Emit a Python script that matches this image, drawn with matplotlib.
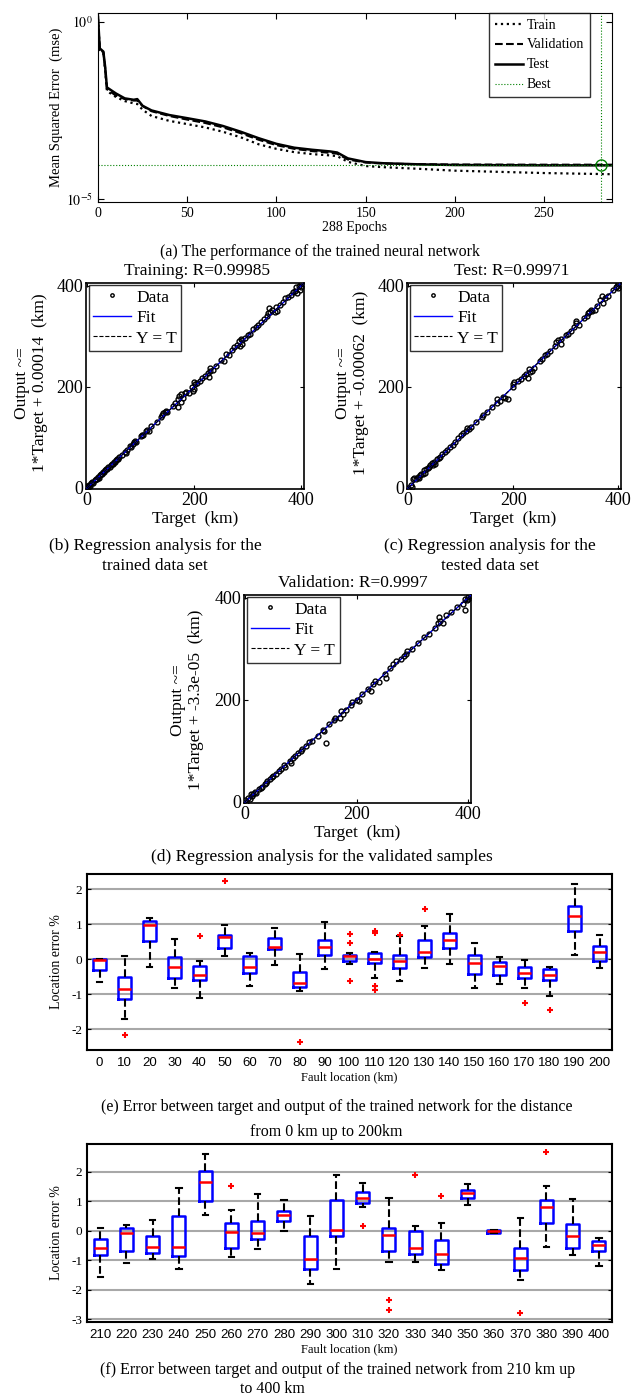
import matplotlib
matplotlib.use("Agg")
import matplotlib.pyplot as plt

W, H = 643, 1398
plt.rcParams['font.family'] = ['Liberation Serif', 'DejaVu Serif']
plt.rcParams['mathtext.fontset'] = 'stix'
plt.rcParams['axes.unicode_minus'] = False

# ---------------- (a) performance ----------------
perf_epochs = [0, 1, 3, 4, 5, 10, 15, 20, 22, 25, 30, 40, 50, 60, 70, 80, 90, 100,
               110, 120, 130, 134, 140, 150, 160, 180, 200, 250, 288]
mse_train = [1.2, 0.16, 0.13, 0.045, 0.0112, 0.0076, 0.0058, 0.005, 0.0048, 0.0033,
             0.0022, 0.0016, 0.0013, 0.00105, 7.9e-4, 5.5e-4, 3.5e-4, 2.6e-4, 2.1e-4,
             1.85e-4, 1.7e-4, 1.62e-4, 1.12e-4, 8.5e-5, 7.9e-5, 7.1e-5, 6.3e-5, 5.4e-5, 5.0e-5]
mse_val = [1.2, 0.16, 0.14, 0.05, 0.0126, 0.0083, 0.0066, 0.006, 0.006, 0.0042,
           0.003, 0.0022, 0.00174, 0.0014, 0.00105, 7.2e-4, 4.7e-4, 3.3e-4, 2.6e-4,
           2.25e-4, 2.0e-4, 1.9e-4, 1.3e-4, 1.07e-4, 1.0e-4, 9.6e-5, 9.4e-5, 9.3e-5, 9.3e-5]
mse_test = [1.38, 0.178, 0.145, 0.0537, 0.0141, 0.00955, 0.00692, 0.00631, 0.0066, 0.00427,
            0.00316, 0.00234, 0.00191, 0.00155, 0.00115, 7.9e-4, 5.2e-4, 3.6e-4, 2.8e-4,
            2.45e-4, 2.2e-4, 2.05e-4, 1.4e-4, 1.1e-4, 1.02e-4, 9.5e-5, 9.1e-5, 8.9e-5, 8.9e-5]
best_epoch = 282
best_mse = 9.2e-5

# ---------------- (b)-(d) regression ----------------
train_t = [0, 0, 2, 4, 6, 8, 10, 12, 14, 16, 18, 20, 22, 24, 26, 28, 30, 32, 34, 36, 38, 40,
           42, 44, 46, 48, 50, 52, 54, 56, 58, 60, 65, 70, 72, 75, 80, 82, 85, 88, 90, 92,
           100, 102, 105, 110, 112, 115, 120, 130, 138, 140, 142, 145, 148, 150, 160, 165,
           170, 170, 172, 175, 175, 180, 182, 185, 190, 195, 198, 200, 200, 202, 205, 210,
           215, 220, 225, 228, 230, 230, 235, 240, 250, 255, 260, 265, 270, 275, 280, 283,
           285, 287, 290, 290, 295, 300, 305, 310, 315, 320, 325, 330, 335, 338, 340, 342,
           345, 350, 352, 355, 360, 365, 370, 375, 380, 385, 388, 390, 392, 395, 398, 400, 400]
train_y = [0, 3, 2, 5, 4, 9, 12, 10, 15, 18, 17, 22, 20, 25, 27, 27, 32, 31, 35, 38, 37, 42,
           41, 45, 47, 48, 52, 51, 56, 58, 57, 62, 65, 72, 70, 76, 82, 80, 86, 90, 92, 90,
           102, 105, 104, 112, 115, 113, 122, 130, 140, 145, 148, 150, 152, 150, 162, 168,
           160, 175, 182, 170, 185, 178, 188, 190, 188, 200, 192, 210, 195, 205, 208, 212,
           218, 222, 228, 220, 238, 232, 233, 242, 252, 250, 265, 262, 272, 278, 282, 290,
           280, 295, 292, 285, 297, 302, 305, 315, 318, 322, 328, 333, 340, 345, 355, 348,
           352, 348, 358, 350, 362, 368, 375, 378, 382, 388, 390, 398, 385, 400, 392, 405, 398]
test_t = [0, 0, 5, 8, 10, 12, 15, 18, 20, 22, 25, 28, 30, 32, 35, 38, 40, 42, 45, 48, 50, 52,
          55, 58, 60, 65, 70, 75, 80, 85, 90, 95, 100, 105, 110, 112, 115, 120, 130, 140, 142,
          150, 160, 170, 170, 175, 180, 185, 190, 200, 200, 202, 210, 215, 220, 225, 228, 230,
          232, 235, 240, 250, 255, 260, 265, 270, 280, 282, 285, 290, 290, 300, 305, 310, 315,
          320, 320, 325, 335, 340, 342, 345, 348, 350, 355, 360, 365, 368, 370, 375, 380, 390,
          395, 398, 400, 400]
test_y = [0, -3, 5, 2, 18, 20, 17, 22, 20, 25, 28, 28, 35, 30, 38, 40, 42, 45, 50, 45, 52, 48,
          58, 60, 62, 67, 72, 76, 80, 85, 90, 98, 105, 108, 112, 118, 116, 120, 130, 140, 145,
          150, 160, 168, 175, 172, 180, 178, 175, 200, 205, 210, 212, 215, 222, 225, 218, 235,
          230, 232, 238, 250, 255, 262, 265, 270, 280, 288, 292, 285, 295, 302, 305, 310, 318,
          325, 330, 322, 335, 340, 345, 348, 352, 350, 352, 360, 372, 380, 365, 375, 380, 392,
          398, 400, 405, 395]
val_t = [0, 2, 5, 8, 10, 12, 15, 18, 20, 25, 28, 30, 35, 38, 40, 45, 48, 50, 55, 60, 65, 70,
         72, 80, 82, 85, 90, 95, 100, 102, 110, 115, 120, 130, 140, 142, 145, 150, 160, 162,
         170, 172, 175, 180, 190, 192, 200, 205, 210, 220, 225, 230, 232, 240, 250, 252, 260,
         265, 270, 280, 285, 288, 290, 300, 310, 320, 330, 340, 345, 348, 350, 355, 360, 370,
         380, 390, 395, 395, 398, 400, 400]
val_y = [3, 0, 8, 5, 15, 12, 15, 20, 18, 25, 27, 30, 35, 38, 42, 45, 48, 50, 55, 60, 65, 72,
         68, 80, 76, 87, 90, 95, 100, 104, 110, 117, 120, 130, 140, 138, 115, 152, 160, 165,
         165, 178, 172, 180, 190, 195, 200, 198, 212, 222, 218, 230, 236, 235, 250, 242, 262,
         270, 275, 280, 285, 290, 295, 300, 312, 322, 328, 340, 350, 362, 355, 350, 365, 372,
         382, 388, 398, 375, 395, 402, 397]

# ---------------- (e) boxplot 0-200 km ----------------
e_labels = [str(v) for v in range(0, 201, 10)]
e_q1 = [-0.3, -1.15, 0.52, -0.53, -0.61, 0.31, -0.39, 0.28, -0.8, 0.12, -0.07,
        -0.12, -0.27, 0.06, 0.31, -0.43, -0.45, -0.54, -0.61, 0.81, -0.06]
e_med = [-0.03, -0.85, 0.98, -0.22, -0.45, 0.62, -0.22, 0.35, -0.68, 0.35, 0.09,
         0.0, -0.07, 0.19, 0.54, -0.12, -0.2, -0.39, -0.45, 1.23, 0.21]
e_q3 = [0.0, -0.5, 1.1, 0.07, -0.2, 0.68, 0.1, 0.6, -0.38, 0.53, 0.11,
        0.16, 0.12, 0.55, 0.73, 0.12, -0.08, -0.24, -0.28, 1.52, 0.37]
e_lo = [-0.65, -1.72, -0.24, -0.82, -1.1, 0.1, -0.77, -0.18, -0.9, -0.28, -0.15,
        -0.53, -0.62, -0.25, -0.14, -0.82, -0.72, -0.84, -1.06, 0.11, -0.25]
e_hi = [0.0, 0.08, 1.17, 0.57, -0.06, 0.96, 0.16, 0.88, 0.13, 1.06, 0.17,
        0.2, 0.66, 0.93, 1.29, 0.45, 0.05, -0.03, -0.23, 2.13, 0.69]
e_fliers = [[], [-2.18], [], [], [0.67], [2.22], [], [], [-2.37], [], [0.72, 0.47, -0.62],
            [0.8, 0.74, -0.77, -0.89], [0.68], [1.44], [], [], [], [-1.27], [-1.46], [], []]

# ---------------- (f) boxplot 210-400 km ----------------
f_labels = [str(v) for v in range(210, 401, 10)]
f_q1 = [-0.82, -0.67, -0.75, -0.84, 1.0, -0.6, -0.28, 0.32, -1.31, -0.17,
        0.93, -0.69, -0.78, -1.14, 1.13, -0.06, -1.34, 0.27, -0.6, -0.69]
f_med = [-0.6, -0.09, -0.55, -0.56, 1.65, -0.05, -0.08, 0.53, -0.95, 0.03,
         1.12, -0.15, -0.58, -0.8, 1.3, -0.01, -0.94, 0.82, -0.17, -0.47]
f_q3 = [-0.28, 0.08, -0.17, 0.49, 2.02, 0.25, 0.33, 0.67, -0.17, 1.06,
        1.32, 0.11, -0.02, -0.3, 1.38, 0.02, -0.58, 1.06, 0.23, -0.33]
f_lo = [-1.56, -1.08, -0.97, -1.31, 0.55, -0.89, -0.63, 0.0, -1.81, -1.3,
        0.82, -1.05, -1.05, -1.32, 0.88, -0.07, -1.67, -0.54, -0.81, -1.19]
f_hi = [0.11, 0.19, 0.36, 1.46, 2.62, 0.69, 1.24, 1.03, 0.51, 1.89,
        1.63, 1.11, 0.17, 0.25, 1.58, 0.02, 0.42, 1.51, 1.07, -0.25]
f_fliers = [[], [], [], [], [], [1.51], [], [], [], [], [0.16], [-2.34, -2.69], [1.9],
            [1.17], [], [], [-2.8], [2.68], [], []]


def rect(l, t, r, b):
    return [l / W, 1 - b / H, (r - l) / W, (b - t) / H]


def ftext(x, y, s, **kw):
    kw.setdefault('ha', 'center')
    kw.setdefault('va', 'center')
    fig.text(x / W, 1 - y / H, s, **kw)


fig = plt.figure(figsize=(W / 100, H / 100), dpi=100)

# ---- (a)
ax = fig.add_axes(rect(98, 13, 612, 202))
ax.plot(perf_epochs, mse_train, 'k:', lw=1.6, label='Train')
ax.plot(perf_epochs, mse_val, 'k--', lw=1.5, label='Validation')
ax.plot(perf_epochs, mse_test, 'k-', lw=1.8, label='Test')
ax.axhline(best_mse, color='green', ls=':', lw=0.8, label='Best')
ax.axvline(best_epoch, color='green', ls=':', lw=0.8)
ax.plot([best_epoch], [best_mse], 'o', mfc='none', mec='green', ms=8, mew=1)
ax.set_yscale('log')
ax.set_xlim(0, 288)
ax.set_ylim(10 ** -5.085, 10 ** 0.25)
ax.set_yticks([1e-5, 1e0])
ax.set_yticklabels([r'$10^{-5}$', r'$10^{0}$'])
ax.minorticks_off()
ax.set_xticks([0, 50, 100, 150, 200, 250])
ax.tick_params(direction='in', labelsize=10, top=True, right=True, length=4)
ax.set_xlabel('288 Epochs', fontsize=10, labelpad=1)
ax.set_ylabel('Mean Squared Error  (mse)', fontsize=10.5, labelpad=2)
leg = ax.legend(loc='upper right', bbox_to_anchor=(0.957, 1.0), borderaxespad=0,
                fontsize=10, fancybox=False, edgecolor='black', handlelength=2.0,
                labelspacing=0.5, handletextpad=0.3, borderpad=0.4)
leg.get_frame().set_linewidth(1.0)
ftext(320, 252, '(a) The performance of the trained neural network', fontsize=11.5)

# ---- regression panels
def regress(box, t, y, title, title_xy, ylab, ylab_xy, xlab_xy):
    a = fig.add_axes(rect(*box))
    a.plot(t, y, 'o', mfc='none', mec='black', ms=3.5, mew=1.0, label='Data', zorder=2)
    a.plot([0, 405], [0, 405], '-', color='blue', lw=1.0, label='Fit', zorder=3)
    a.plot([0, 405], [0, 405], 'k--', lw=0.8, label='Y = T', zorder=4)
    a.set_xlim(-2, 405)
    a.set_ylim(-2, 405)
    a.set_xticks([0, 200, 400])
    a.set_yticks([0, 200, 400])
    a.tick_params(direction='in', labelsize=13, top=True, right=True, length=3, pad=2)
    for s in a.spines.values():
        s.set_linewidth(1.2)
    lg = a.legend(loc='upper left', bbox_to_anchor=(0.012, 0.99), borderaxespad=0,
                  fontsize=12.5, fancybox=False, edgecolor='black', handlelength=2.2,
                  labelspacing=0.25, handletextpad=0.3, borderpad=0.25, markerscale=0.7)
    lg.get_frame().set_linewidth(1.0)
    ftext(*title_xy, title, fontsize=12.5)
    ftext(*ylab_xy, ylab, fontsize=12.5, rotation=90, linespacing=1.1)
    ftext(*xlab_xy, 'Target  (km)', fontsize=12.5)
    return a

regress((86, 283, 304, 489), train_t, train_y, 'Training: R=0.99985', (197, 271),
        'Output ~=\n1*Target + 0.00014  (km)', (31, 383), (195, 519))
ftext(155, 556, '(b) Regression analysis for the\ntrained data set', fontsize=12.5,
      linespacing=1.25)

regress((407, 283, 621, 489), test_t, test_y, 'Test: R=0.99971', (512, 271),
        'Output ~=\n1*Target + -0.00062  (km)', (352, 383), (513, 519))
ftext(490, 556, '(c) Regression analysis for the\ntested data set', fontsize=12.5,
      linespacing=1.25)

regress((244, 595, 471, 803), val_t, val_y, 'Validation: R=0.9997', (353, 583),
        'Output ~=\n1*Target + -3.3e-05  (km)', (187, 700), (357, 833))
ftext(322, 857, '(d) Regression analysis for the validated samples', fontsize=12.5)

# ---- box plots
def boxes(box, labels, q1, med, q3, lo, hi, fl, ylim, yticks):
    a = fig.add_axes(rect(*box))
    stats = []
    for i in range(len(labels)):
        stats.append(dict(q1=q1[i], med=med[i], q3=q3[i], whislo=lo[i], whishi=hi[i],
                          fliers=fl[i], label=labels[i]))
    a.bxp(stats, widths=0.5, capwidths=0.2,
          boxprops=dict(color='blue', lw=1.8),
          medianprops=dict(color='red', lw=1.8),
          whiskerprops=dict(color='black', lw=1.5, ls='--'),
          capprops=dict(color='black', lw=1.5),
          flierprops=dict(marker='+', markeredgecolor='red', markersize=4, mew=1.5))
    a.set_xlim(0.5, len(labels) + 0.5)
    a.set_ylim(*ylim)
    a.set_yticks(yticks)
    a.yaxis.grid(True, color='#a8a8a8', lw=1.5)
    a.set_axisbelow(True)
    a.tick_params(axis='y', direction='in', labelsize=9.5, length=3, right=True)
    a.tick_params(axis='x', length=0, pad=5)
    for lab in a.get_xticklabels():
        lab.set_family('Liberation Sans')
        lab.set_fontsize(9.5)
    for s in a.spines.values():
        s.set_linewidth(1.5)
    a.set_ylabel('Location error %', fontsize=10, labelpad=6)
    a.set_xlabel('Fault location (km)', fontsize=9, labelpad=2)
    return a

boxes((87, 874, 612, 1050), e_labels, e_q1, e_med, e_q3, e_lo, e_hi, e_fliers,
      (-2.6, 2.43), [-2, -1, 0, 1, 2])
ftext(337, 1107, '(e) Error between target and output of the trained network for the distance',
      fontsize=11.5)
ftext(326, 1132, 'from 0 km up to 200km', fontsize=11.5)

boxes((87, 1144, 612, 1322), f_labels, f_q1, f_med, f_q3, f_lo, f_hi, f_fliers,
      (-3.1, 2.95), [-3, -2, -1, 0, 1, 2])
ftext(338, 1370, '(f) Error between target and output of the trained network from 210 km up',
      fontsize=11.5)
ftext(272, 1389, 'to 400 km', fontsize=11.5)

fig.savefig('out.png', dpi=100)
